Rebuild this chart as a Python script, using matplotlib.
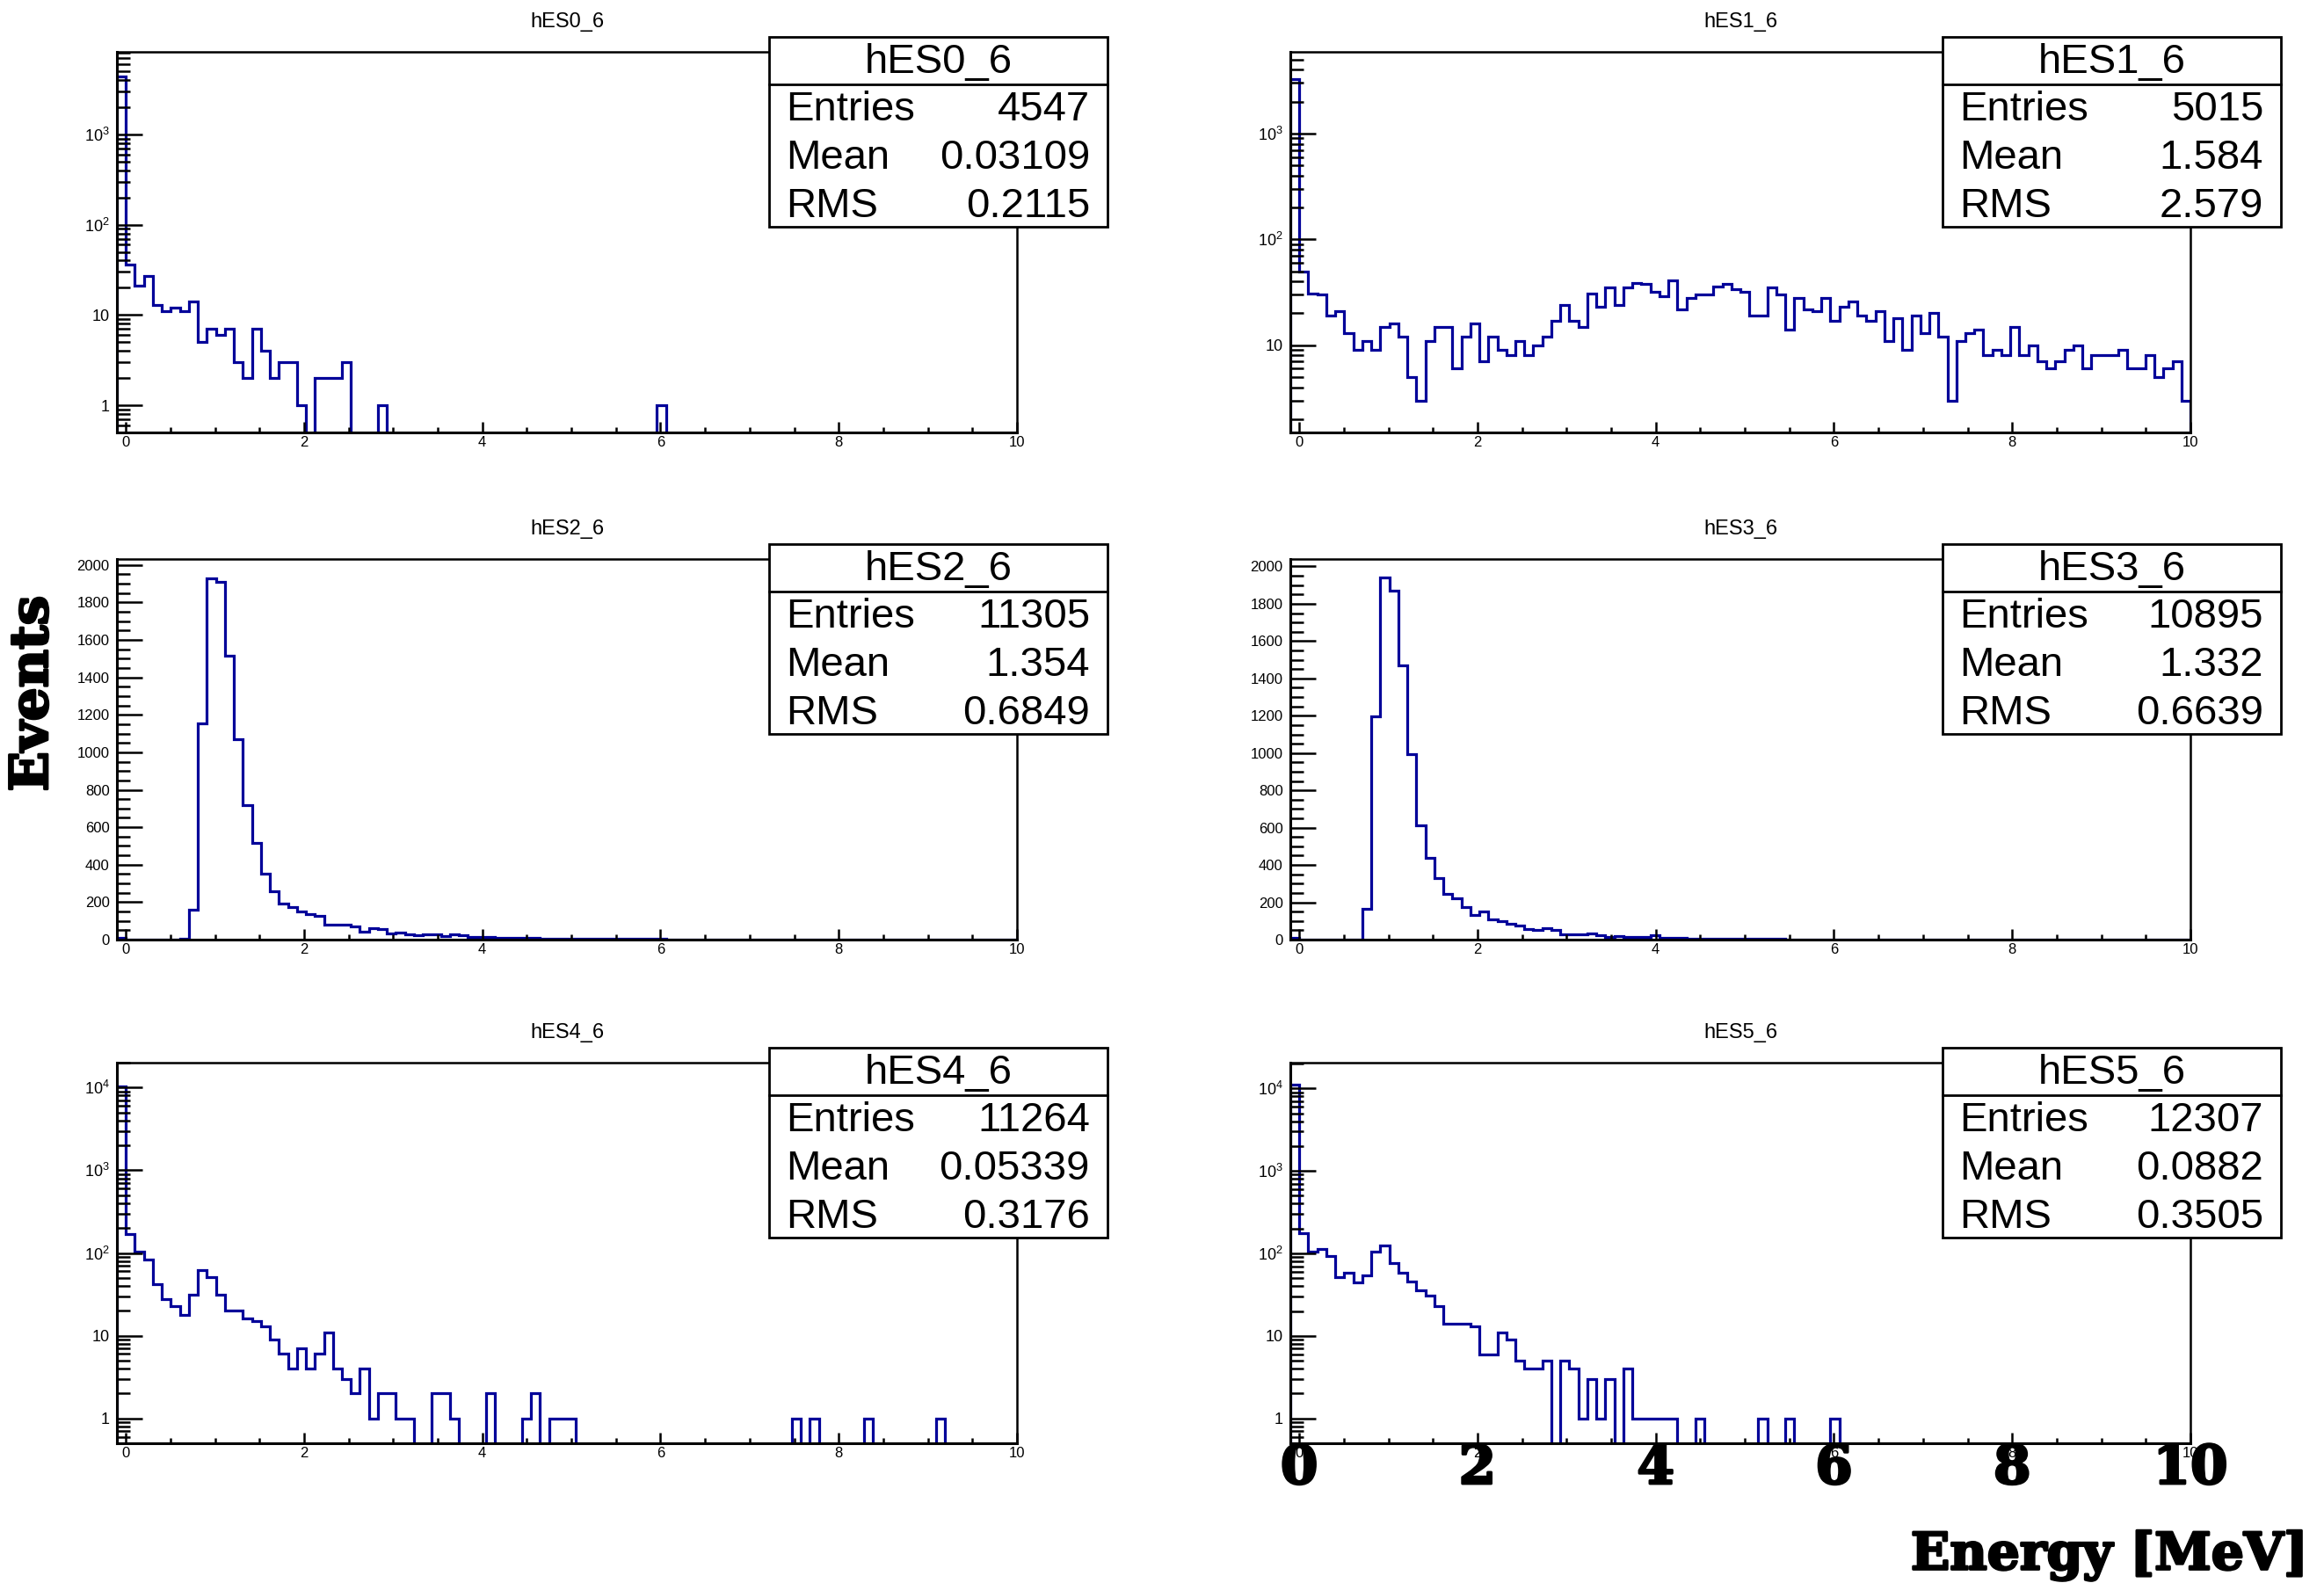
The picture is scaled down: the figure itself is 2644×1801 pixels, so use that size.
import numpy as np
import matplotlib
matplotlib.use("Agg")
import matplotlib.pyplot as plt
from matplotlib.patches import Rectangle
from matplotlib.lines import Line2D
from matplotlib.ticker import MultipleLocator, LogLocator, FixedLocator, NullFormatter, FuncFormatter
from matplotlib.transforms import blended_transform_factory
import matplotlib.patheffects as pe

plt.rcParams['font.family'] = ['Liberation Sans', 'DejaVu Sans']
plt.rcParams['mathtext.fontset'] = 'custom'
plt.rcParams['mathtext.rm'] = 'Liberation Sans'
plt.rcParams['mathtext.it'] = 'Liberation Sans'
plt.rcParams['mathtext.default'] = 'regular'

# ---------------- data ----------------
# 100 bins from -0.1 to 10.0 MeV
x_low, x_high, n_bins = -0.1, 10.0, 100

names = ["hES0_6", "hES1_6", "hES2_6", "hES3_6", "hES4_6", "hES5_6"]
entries = ["4547", "5015", "11305", "10895", "11264", "12307"]
means = ["0.03109", "1.584", "1.354", "1.332", "0.05339", "0.0882"]
rmss = ["0.2115", "2.579", "0.6849", "0.6639", "0.3176", "0.3505"]

hES0_6 = [4341, 36, 21, 27, 13, 11, 12, 11, 14, 5,
          7, 6, 7, 3, 2, 7, 4, 2, 3, 3,
          1, 0, 2, 2, 2, 3, 0, 0, 0, 1,
          0, 0, 0, 0, 0, 0, 0, 0, 0, 0,
          0, 0, 0, 0, 0, 0, 0, 0, 0, 0,
          0, 0, 0, 0, 0, 0, 0, 0, 0, 0,
          1, 0, 0, 0, 0, 0, 0, 0, 0, 0,
          0, 0, 0, 0, 0, 0, 0, 0, 0, 0,
          0, 0, 0, 0, 0, 0, 0, 0, 0, 0,
          0, 0, 0, 0, 0, 0, 0, 0, 0, 0]

hES1_6 = [3284, 50, 31, 30, 19, 21, 13, 9, 11, 9,
          15, 16, 12, 5, 3, 11, 15, 15, 6, 12,
          16, 7, 12, 9, 8, 11, 8, 10, 12, 17,
          24, 17, 15, 31, 23, 35, 24, 35, 39, 38,
          32, 29, 41, 22, 28, 30, 30, 36, 38, 34,
          32, 19, 19, 35, 30, 14, 28, 22, 21, 28,
          17, 23, 26, 19, 17, 21, 11, 18, 9, 19,
          13, 20, 12, 3, 11, 13, 14, 8, 9, 8,
          15, 8, 10, 7, 6, 7, 9, 10, 6, 8,
          8, 8, 9, 6, 6, 8, 5, 6, 7, 3]

hES2_6 = [8, 2, 2, 1, 2, 2, 2, 3, 160, 1156,
          1930, 1911, 1516, 1070, 719, 516, 352, 258, 191, 172,
          148, 137, 125, 81, 81, 78, 70, 42, 62, 55,
          31, 39, 27, 23, 27, 28, 19, 27, 22, 16,
          16, 13, 11, 10, 9, 9, 8, 7, 6, 6,
          6, 5, 5, 4, 4, 4, 3, 3, 3, 3,
          3, 2, 2, 2, 2, 2, 2, 2, 2, 1,
          1, 2, 1, 1, 1, 1, 1, 1, 1, 1,
          1, 1, 1, 1, 1, 1, 1, 1, 1, 1,
          1, 1, 1, 1, 1, 1, 1, 0, 1, 1]

hES3_6 = [10, 2, 2, 2, 2, 2, 2, 2, 163, 1199,
          1939, 1871, 1468, 995, 612, 438, 330, 243, 223, 173,
          133, 149, 110, 97, 86, 74, 55, 50, 61, 50,
          30, 27, 27, 35, 22, 16, 19, 14, 14, 14,
          22, 11, 9, 8, 7, 7, 6, 5, 5, 4,
          4, 4, 3, 3, 3, 2, 2, 2, 2, 2,
          2, 1, 1, 1, 1, 1, 1, 1, 1, 1,
          1, 1, 0, 1, 1, 0, 1, 1, 0, 1,
          1, 0, 1, 1, 0, 1, 0, 1, 0, 1,
          0, 1, 0, 1, 0, 0, 1, 0, 0, 1]

hES4_6 = [10455, 168, 103, 84, 42, 28, 23, 18, 31, 62,
          51, 31, 20, 20, 16, 15, 13, 9, 6, 4,
          7, 4, 6, 11, 4, 3, 2, 4, 1, 2,
          2, 1, 1, 0, 0, 2, 2, 1, 0, 0,
          0, 2, 0, 0, 0, 1, 2, 0, 1, 1,
          1, 0, 0, 0, 0, 0, 0, 0, 0, 0,
          0, 0, 0, 0, 0, 0, 0, 0, 0, 0,
          0, 0, 0, 0, 0, 1, 0, 1, 0, 0,
          0, 0, 0, 1, 0, 0, 0, 0, 0, 0,
          0, 1, 0, 0, 0, 0, 0, 0, 0, 0]

hES5_6 = [10975, 175, 105, 112, 94, 51, 58, 45, 54, 106,
          126, 77, 58, 46, 36, 31, 23, 14, 14, 14,
          13, 6, 6, 11, 9, 5, 4, 4, 5, 0,
          5, 4, 1, 3, 1, 3, 0, 4, 1, 1,
          1, 1, 1, 0, 0, 1, 0, 0, 0, 0,
          0, 0, 1, 0, 0, 1, 0, 0, 0, 0,
          1, 0, 0, 0, 0, 0, 0, 0, 0, 0,
          0, 0, 0, 0, 0, 0, 0, 0, 0, 0,
          0, 0, 0, 0, 0, 0, 0, 0, 0, 0,
          0, 0, 0, 0, 0, 0, 0, 0, 0, 0]

series = [hES0_6, hES1_6, hES2_6, hES3_6, hES4_6, hES5_6]
log_scale = [True, True, False, False, True, True]
y_limits = [(0.5, 8200), (1.5, 5900), (0, 2032), (0, 2040), (0.5, 20000), (0.5, 20500)]
x_ticks_major = [0, 2, 4, 6, 8, 10]
big_labels = ["0", "2", "4", "6", "8", "10"]

# ---------------- layout (pixels) ----------------
W, H, DPI = 2644, 1801, 100
fig = plt.figure(figsize=(W / DPI, H / DPI), dpi=DPI)
fig.patch.set_facecolor("white")

col_left = [133, 1468]
row_top = [59, 636, 1209]
pw, ph = 1024, 433
line_col = "#000099"


def fx(px):
    return px / W


def fy(py):
    return 1 - py / H


def log_fmt(v, pos):
    e = int(round(np.log10(v)))
    if e == 0:
        return "1"
    if e == 1:
        return "10"
    return r"$10^{%d}$" % e


edges = np.linspace(x_low, x_high, n_bins + 1)
axes = []
for i in range(6):
    r, c = divmod(i, 2)
    L, T = col_left[c], row_top[r]
    ax = fig.add_axes([fx(L), fy(T + ph), pw / W, ph / H])
    axes.append(ax)
    vals = np.asarray(series[i], dtype=float)
    ylo, yhi = y_limits[i]
    if log_scale[i]:
        ax.set_yscale("log")
        floor = ylo * 1e-3
        plot_vals = np.where(vals > 0, vals, floor)
        ax.stairs(plot_vals, edges, color=line_col, lw=2.3, baseline=floor)
        ax.yaxis.set_major_locator(LogLocator(base=10, numticks=12))
        ax.yaxis.set_minor_locator(LogLocator(base=10, subs=np.arange(2, 10), numticks=30))
        ax.yaxis.set_minor_formatter(NullFormatter())
        ax.yaxis.set_major_formatter(FuncFormatter(log_fmt))
        ylab = 13
    else:
        ax.stairs(vals, edges, color=line_col, lw=2.3, baseline=0)
        ax.yaxis.set_major_locator(MultipleLocator(200))
        ax.yaxis.set_minor_locator(MultipleLocator(50))
        ylab = 12
    ax.set_ylim(ylo, yhi)
    ax.set_xlim(x_low, x_high)
    ax.xaxis.set_major_locator(FixedLocator(x_ticks_major))
    ax.xaxis.set_minor_locator(MultipleLocator(0.5))
    ax.tick_params(axis="x", which="major", direction="in", length=9, width=1.8,
                   labelsize=12, pad=3, top=False)
    ax.tick_params(axis="x", which="minor", direction="in", length=4.5, width=1.8, top=False)
    ax.tick_params(axis="y", which="major", direction="in", length=21, width=1.8,
                   labelsize=ylab, pad=6, right=False)
    ax.tick_params(axis="y", which="minor", direction="in", length=10.5, width=1.8, right=False)
    for s in ["left", "bottom"]:
        ax.spines[s].set_linewidth(2.2)
    for s in ["top", "right"]:
        ax.spines[s].set_linewidth(1.8)
    ax.set_facecolor("white")

    # panel title
    fig.text(fx(L + pw / 2), fy(T - 34), names[i], ha="center", va="center", fontsize=17)

    # stats box
    bl, br = L + 742, L + 1127
    bt, bb = T - 17, T + 199
    rect = Rectangle((fx(bl), fy(bb)), fx(br) - fx(bl), fy(bt) - fy(bb),
                     transform=fig.transFigure, facecolor="white", edgecolor="black",
                     lw=2.0, zorder=10)
    fig.add_artist(rect)
    fig.add_artist(Line2D([fx(bl), fx(br)], [fy(T + 37), fy(T + 37)],
                          transform=fig.transFigure, color="black", lw=2.0, zorder=11))
    fig.text(fx((bl + br) / 2), fy(T + 12), names[i], ha="center", va="center",
             fontsize=34, zorder=12)
    rows = [("Entries", entries[i]), ("Mean", means[i]), ("RMS", rmss[i])]
    for j, (lab, val) in enumerate(rows):
        yy = fy(T + 66 + 55 * j)
        fig.text(fx(bl + 19), yy, lab, ha="left", va="center", fontsize=34, zorder=12)
        fig.text(fx(br - 20), yy, val, ha="right", va="center", fontsize=34, zorder=12)

# big overlay x labels under last panel
ax_br = axes[5]
trans = blended_transform_factory(ax_br.transData, fig.transFigure)
heavy = [pe.withStroke(linewidth=2.0, foreground="black")]
slab = ["DejaVu Serif", "DejaVu Sans"]
for v, s in zip(x_ticks_major, big_labels):
    ax_br.text(v, fy(1671), s, transform=trans, ha="center", va="center",
               fontsize=44, fontweight="bold", family=slab,
               path_effects=heavy, clip_on=False)

fig.text(fx(2626), fy(1770), "Energy [MeV]", ha="right", va="center", fontsize=42,
         fontweight="bold", family=slab, path_effects=heavy)
fig.text(fx(37), fy(789), "Events", ha="center", va="center", rotation=90, fontsize=43,
         fontweight="bold", family=slab, path_effects=heavy)

fig.savefig("out.png", dpi=DPI, facecolor="white")
